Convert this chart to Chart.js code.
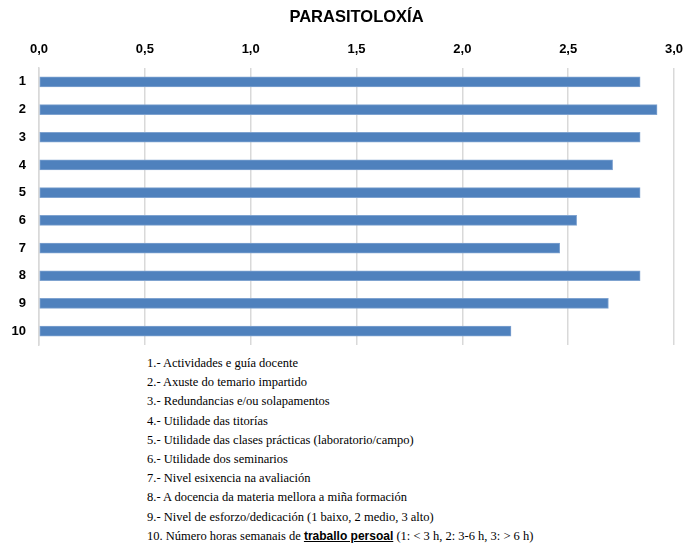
<!DOCTYPE html>
<html>
<head>
<meta charset="utf-8">
<script src="https://cdn.jsdelivr.net/npm/chart.js@4/dist/chart.umd.min.js"></script>
<style>
  body { margin: 0; background: #fff; overflow: hidden; }
  #wrap { position: relative; width: 684px; height: 545px; }
  #barChart { position: absolute; left: 0; top: 0; }
  #notes { position: absolute; left: 147px; top: 354px; margin: 0; padding: 0; list-style: none;
           font-family: "Liberation Serif", "Times New Roman", serif; font-size: 12.5px; color: #000; }
  #notes li { height: 19.2px; line-height: 19.2px; white-space: nowrap; }
  #notes b { font-family: "Liberation Sans", Arial, sans-serif; font-size: 12px; text-decoration: underline; }
</style>
</head>
<body>
<div id="wrap">
  <canvas id="barChart" width="684" height="350"></canvas>
  <ul id="notes">
    <li>1.- Actividades e guía docente</li>
    <li>2.- Axuste do temario impartido</li>
    <li>3.- Redundancias e/ou solapamentos</li>
    <li>4.- Utilidade das titorías</li>
    <li>5.- Utilidade das clases prácticas (laboratorio/campo)</li>
    <li>6.- Utilidade dos seminarios</li>
    <li>7.- Nivel esixencia na avaliación</li>
    <li>8.- A docencia da materia mellora a miña formación</li>
    <li>9.- Nivel de esforzo/dedicación (1 baixo, 2 medio, 3 alto)</li>
    <li>10. Número horas semanais de <b>traballo persoal</b> (1: &lt; 3 h, 2: 3-6 h, 3: &gt; 6 h)</li>
  </ul>
</div>
<script>
var chartTitle = 'PARASITOLOXÍA';
var categories = ['1', '2', '3', '4', '5', '6', '7', '8', '9', '10'];
var scores = [2.84, 2.92, 2.84, 2.71, 2.84, 2.54, 2.46, 2.84, 2.69, 2.23];
var tickValues = [0, 0.5, 1, 1.5, 2, 2.5, 3];

var labelFont = '"Liberation Sans", Arial, sans-serif';

// title centred over the plot area rather than the whole canvas
var titlePlugin = {
    id: 'plotTitle',
    afterDraw: function (chart) {
        var c = chart.ctx;
        var area = chart.chartArea;
        c.save();
        c.font = 'bold 16.5px ' + labelFont;
        c.fillStyle = '#000';
        c.textAlign = 'center';
        c.textBaseline = 'middle';
        c.fillText(chartTitle, (area.left + area.right) / 2, 17);
        c.restore();
    }
};

var ctx = document.getElementById('barChart').getContext('2d');
var myChart = new Chart(ctx, {
    type: 'bar',
    data: {
        labels: categories,
        datasets: [{
            data: scores,
            backgroundColor: '#4F81BD',
            borderColor: '#7FA3D0',
            borderWidth: 1,
            borderSkipped: false,
            barThickness: 10
        }]
    },
    options: {
        indexAxis: 'y',
        responsive: false,
        animation: false,
        layout: { padding: { left: 0, right: 10, top: 30, bottom: 5 } },
        plugins: {
            legend: { display: false },
            tooltip: { enabled: false },
            title: { display: false }
        },
        scales: {
            x: {
                position: 'top',
                min: 0,
                max: 3,
                afterBuildTicks: function (scale) {
                    scale.ticks = tickValues.map(function (v) { return { value: v }; });
                },
                afterFit: function (scale) {
                    scale.height = 38;
                    scale.paddingLeft = 0;
                    scale.paddingRight = 0;
                },
                grid: { color: '#D9D9D9', lineWidth: 1.5, drawTicks: false },
                border: { display: false },
                ticks: {
                    padding: 11,
                    color: '#000',
                    font: { family: labelFont, size: 13, weight: 'bold' },
                    callback: function (v) { return v.toFixed(1).replace('.', ','); }
                }
            },
            y: {
                afterFit: function (scale) {
                    scale.width = 39;
                    scale.paddingTop = 0;
                    scale.paddingBottom = 0;
                },
                grid: { display: false, drawTicks: false },
                border: { color: '#D9D9D9', width: 1.5 },
                ticks: {
                    padding: 13,
                    color: '#000',
                    font: { family: labelFont, size: 13, weight: 'bold' }
                }
            }
        }
    },
    plugins: [titlePlugin]
});
</script>
</body>
</html>
